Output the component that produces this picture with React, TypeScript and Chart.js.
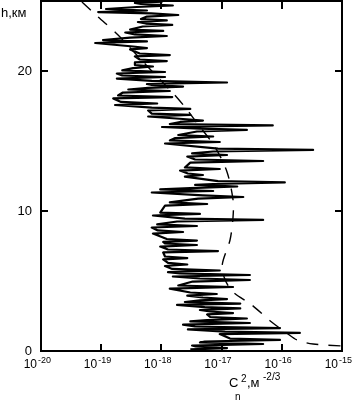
import React, { useEffect, useRef } from "react";
import { Chart, registerables } from "chart.js";

Chart.register(...registerables);

// Measured profile: height (km) and log10(Cn^2 / m^-2/3), read bottom to top
const measuredHeightKm = [
  0.11, 0.21, 0.32, 0.39, 0.5, 0.61, 0.68, 0.79, 0.89, 1.21, 1.29, 1.39,
  1.54, 1.64, 1.75, 1.89, 2.0, 2.11, 2.21, 2.32, 2.43, 2.61, 2.71, 2.82,
  2.93, 3.04, 3.14, 3.29, 3.39, 3.5, 3.61, 3.71, 3.82, 3.96, 4.07, 4.18,
  4.46, 4.57, 4.68, 4.96, 5.07, 5.18, 5.32, 5.43, 5.54, 5.64, 5.75, 5.86,
  6.07, 6.18, 6.29, 6.54, 6.64, 6.75, 7.04, 7.14, 7.25, 7.46, 7.57, 7.68,
  7.79, 7.89, 8.0, 8.39, 8.5, 8.61, 8.82, 8.93, 9.04, 9.25, 9.36, 9.46,
  9.68, 9.79, 9.89, 10.39, 10.5, 10.61, 10.89, 11.0, 11.11, 11.32, 11.43, 11.54,
  11.64, 11.75, 11.86, 11.93, 12.04, 12.14, 12.46, 12.57, 12.68, 12.89, 13.0, 13.11,
  13.46, 13.57, 13.68, 13.89, 14.0, 14.11, 14.25, 14.36, 14.46, 14.82, 14.93, 15.04,
  15.21, 15.32, 15.43, 15.68, 15.79, 15.89, 16.0, 16.11, 16.21, 16.36, 16.46, 16.57,
  16.75, 16.86, 16.96, 17.18, 17.29, 17.39, 17.57, 17.68, 17.79, 18.04, 18.14, 18.25,
  18.46, 18.57, 18.68, 18.79, 18.89, 19.0, 19.07, 19.18, 19.29, 19.46, 19.57, 19.68,
  19.82, 19.93, 20.04, 20.21, 20.32, 20.43, 20.61, 20.71, 20.82, 21.04, 21.14, 21.25,
  21.54, 21.64, 21.75, 22.0, 22.11, 22.21, 22.39, 22.5, 22.61, 22.75, 22.86, 22.96,
  23.18, 23.29, 23.39, 23.5, 23.61, 23.71, 23.89, 24.0, 24.11, 24.21, 24.32, 24.43,
  24.57, 24.68, 24.79, 24.86, 24.96, 25.04,
];
const measuredLogCn2 = [
  -17.52, -16.91, -17.43, -17.49, -16.31, -17.36, -17.28, -16.03, -16.86, -17.03, -15.7, -16.94,
  -17.56, -16.03, -17.44, -17.64, -16.53, -17.52, -17.24, -16.58, -17.19, -17.24, -16.81, -17.19,
  -17.36, -16.69, -17.28, -17.74, -16.69, -17.61, -17.36, -16.91, -17.31, -17.57, -17.08, -17.52,
  -17.86, -16.81, -17.72, -17.48, -16.53, -17.36, -17.81, -16.53, -17.69, -17.89, -17.03, -17.82,
  -17.94, -17.57, -17.89, -17.97, -17.57, -17.94, -17.97, -17.06, -17.89, -18.02, -17.41, -17.94,
  -17.97, -17.41, -17.91, -18.14, -17.64, -18.06, -18.16, -17.41, -18.07, -17.74, -16.31, -17.61,
  -18.14, -17.36, -18.02, -17.94, -17.24, -17.86, -17.39, -16.64, -17.31, -18.16, -17.14, -18.02,
  -17.52, -16.74, -17.44, -17.14, -15.95, -17.06, -17.61, -17.31, -17.56, -17.69, -17.03, -17.61,
  -17.52, -16.31, -17.44, -17.57, -16.91, -17.49, -17.14, -15.48, -17.06, -17.94, -17.03, -17.86,
  -17.77, -17.14, -17.72, -17.41, -16.58, -17.36, -17.99, -16.15, -17.86, -17.69, -17.31, -17.64,
  -18.22, -17.52, -18.16, -18.22, -17.52, -18.16, -18.77, -18.07, -18.67, -18.8, -17.82, -18.72,
  -18.64, -17.86, -18.55, -18.22, -17.64, -18.16, -18.24, -16.91, -18.16, -18.74, -17.94, -18.65,
  -18.74, -17.94, -18.65, -18.47, -18.14, -18.44, -18.44, -17.91, -18.36, -18.44, -17.86, -18.36,
  -18.52, -18.24, -18.47, -19.1, -18.24, -18.97, -18.52, -17.91, -18.44, -18.6, -17.97, -18.52,
  -18.31, -17.82, -18.26, -18.39, -17.91, -18.34, -18.24, -17.72, -18.17, -19.05, -18.24, -18.92,
  -18.41, -17.81, -18.34, -18.44, -17.99, -18.36,
];

// Model profile (dashed)
const modelHeightKm = [
  24.93, 23.86, 22.57, 20.5, 18.43, 17.43, 16.29, 14.57, 12.79, 10.79, 9.57, 7.93, 6.14, 5.07,
  4.21, 3.29, 2.07, 1.29, 0.79, 0.5, 0.36,
];
const modelLogCn2 = [
  -19.32, -19.05, -18.72, -18.27, -17.81, -17.61, -17.41, -17.11, -16.91, -16.81, -16.81, -16.86,
  -16.99, -16.94, -16.81, -16.5, -16.17, -15.92, -15.75, -15.48, -15.0,
];

const xTickExponents = [-20, -19, -18, -17, -16, -15];
const yTickValues = [0, 10, 20];
const yAxisTitle = "h,км";

const FONT = '"Liberation Sans", Arial, sans-serif';

const frameAxesPlugin = {
  id: "frameAxes",
  afterDatasetsDraw(chart: any) {
    const { ctx, chartArea: a, scales } = chart;
    const xs = scales.x;
    const ys = scales.y;
    ctx.save();
    ctx.strokeStyle = "#000";
    ctx.fillStyle = "#000";
    ctx.lineWidth = 2;
    ctx.strokeRect(a.left, a.top, a.right - a.left, a.bottom - a.top);

    ctx.beginPath();
    xTickExponents.forEach((e) => {
      if (e === xTickExponents[0] || e === xTickExponents[xTickExponents.length - 1]) return;
      const px = Math.round(xs.getPixelForValue(Math.pow(10, e)));
      ctx.moveTo(px, a.bottom);
      ctx.lineTo(px, a.bottom - 7);
      ctx.moveTo(px, a.top);
      ctx.lineTo(px, a.top + 8);
    });
    yTickValues.forEach((v) => {
      if (v === 0) return;
      const py = Math.round(ys.getPixelForValue(v));
      ctx.moveTo(a.left, py);
      ctx.lineTo(a.left + 7, py);
      ctx.moveTo(a.right, py);
      ctx.lineTo(a.right - 7, py);
    });
    ctx.stroke();

    // y tick labels
    ctx.font = `13px ${FONT}`;
    ctx.textAlign = "right";
    ctx.textBaseline = "middle";
    yTickValues.forEach((v) => {
      const py = ys.getPixelForValue(v);
      ctx.fillText(String(v), a.left - 9, py);
    });

    // x tick labels: 10 with superscript exponent
    ctx.textBaseline = "alphabetic";
    xTickExponents.forEach((e) => {
      const px = xs.getPixelForValue(Math.pow(10, e));
      ctx.font = `12px ${FONT}`;
      ctx.textAlign = "right";
      ctx.fillText("10", px - 4, 368);
      ctx.font = `9px ${FONT}`;
      ctx.textAlign = "left";
      ctx.fillText(String(e), px - 3, 363);
    });

    // y axis title
    ctx.font = `13px ${FONT}`;
    ctx.textAlign = "left";
    ctx.fillText(yAxisTitle, 1, 17);

    // x axis title: C_n^2, м^-2/3
    ctx.font = `13px ${FONT}`;
    ctx.fillText("C", 229, 387);
    ctx.font = `10px ${FONT}`;
    ctx.fillText("n", 235, 400);
    ctx.fillText("2", 241, 382);
    ctx.font = `13px ${FONT}`;
    ctx.fillText(",м", 247, 387);
    ctx.font = `10px ${FONT}`;
    ctx.fillText("-2/3", 263, 380);
    ctx.restore();
  },
};

export default function App() {
  const canvasRef = useRef<HTMLCanvasElement | null>(null);

  useEffect(() => {
    const canvas = canvasRef.current;
    if (!canvas) return;
    const measured = measuredHeightKm.map((h, i) => ({ x: Math.pow(10, measuredLogCn2[i]), y: h }));
    const model = modelHeightKm.map((h, i) => ({ x: Math.pow(10, modelLogCn2[i]), y: h }));
    const chart = new Chart(canvas, {
      type: "scatter",
      data: {
        datasets: [
          {
            data: model,
            showLine: true,
            borderColor: "#000",
            borderWidth: 1.4,
            borderDash: [12, 10],
            pointRadius: 0,
            tension: 0.3,
            fill: false,
          },
          {
            data: measured,
            showLine: true,
            borderColor: "#000",
            borderWidth: 2.2,
            borderJoinStyle: "round",
            pointRadius: 0,
            tension: 0,
            fill: false,
          },
        ],
      },
      options: {
        animation: false,
        responsive: false,
        devicePixelRatio: 1,
        layout: { padding: { left: 41, right: 11, top: 1, bottom: 55 } },
        plugins: { legend: { display: false }, tooltip: { enabled: false } },
        scales: {
          x: { type: "logarithmic", min: 1e-20, max: 1e-15, display: false },
          y: { type: "linear", min: 0, max: 25, display: false },
        },
      },
      plugins: [frameAxesPlugin],
    });
    return () => chart.destroy();
  }, []);

  return (
    <canvas
      ref={canvasRef}
      width={353}
      height={406}
      style={{ position: "fixed", left: 0, top: 0, width: 353, height: 406, background: "#fff" }}
    />
  );
}
